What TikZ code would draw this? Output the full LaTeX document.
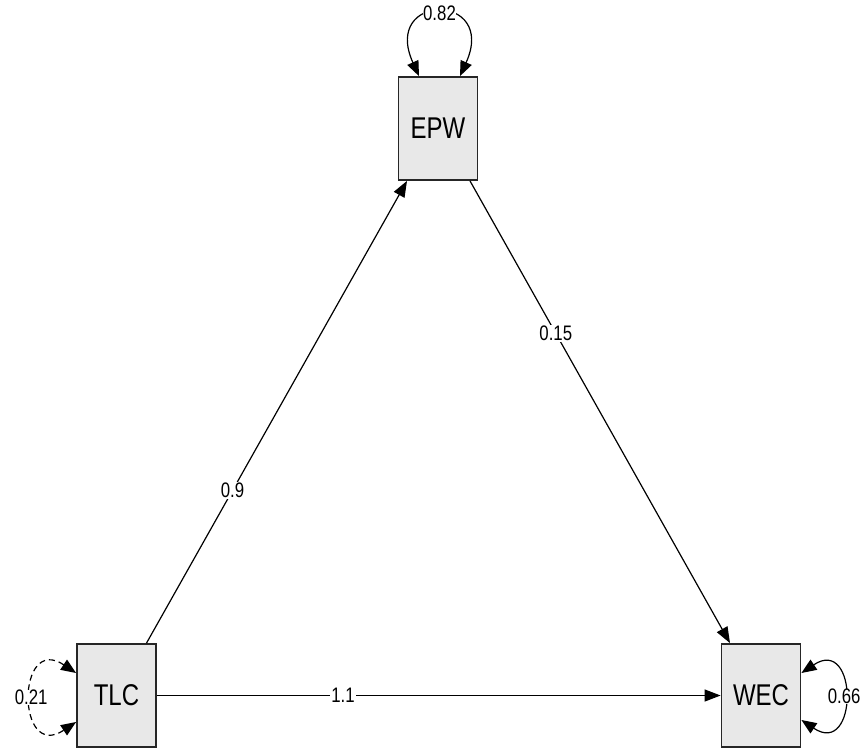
\documentclass[tikz,border=0pt]{standalone}
\usepackage{fontspec}
\setmainfont{Liberation Sans}
\usetikzlibrary{arrows.meta,calc}
\newcommand{\narrowtext}[1]{\scalebox{0.8}[1]{#1}}
\tikzset{
  var/.style={draw=black!85, line width=1.8pt, fill=black!9, minimum width=79pt,
    minimum height=103pt, inner sep=0pt, font=\fontsize{30}{32}\selectfont},
  path/.style={line width=1.2pt, -{Triangle[length=16pt,width=12pt]}},
  loop/.style={line width=1.2pt, {Triangle[length=15pt,width=12pt]}-{Triangle[length=15pt,width=12pt]}},
  est/.style={fill=white, inner sep=1pt, font=\fontsize{21}{22}\selectfont},
  varest/.style={est, inner sep=0pt}
}
\begin{document}
\begin{tikzpicture}[x=1pt,y=-1pt]
  \useasboundingbox (0,0) rectangle (864,747);
  % observed variables
  \node[var] (epw) at (438,128.5) {\narrowtext{EPW}};
  \node[var] (tlc) at (116.5,695.5) {\narrowtext{TLC}};
  \node[var] (wec) at (761,695.5) {\narrowtext{WEC}};
  % regression paths
  \draw[path] ([xshift=30pt]tlc.north) -- node[est, pos=0.33] {\narrowtext{0.9}} ([xshift=-31pt]epw.south);
  \draw[path] ([xshift=32pt]epw.south) -- node[est, pos=0.33] {\narrowtext{0.15}} ([xshift=-31pt]wec.north);
  \draw[path] (tlc.east) -- node[est, pos=0.33] {\narrowtext{1.1}} (wec.west);
  % residual variances (shifts are in page units: positive yshift is upwards)
  \draw[loop] ([xshift=-19pt]epw.north) .. controls +(-38,-84) and +(38,-84) .. node[varest] {\narrowtext{0.82}} ([xshift=22pt]epw.north);
  \draw[loop, dash pattern=on 6pt off 4pt] ([yshift=22.5pt]tlc.west) .. controls +(-60,-40) and +(-60,40) .. node[varest] {\narrowtext{0.21}} ([yshift=-26.5pt]tlc.west);
  \draw[loop] ([yshift=22.5pt]wec.east) .. controls +(57,-38) and +(57,38) .. node[varest] {\narrowtext{0.66}} ([yshift=-24.5pt]wec.east);
\end{tikzpicture}
\end{document}
